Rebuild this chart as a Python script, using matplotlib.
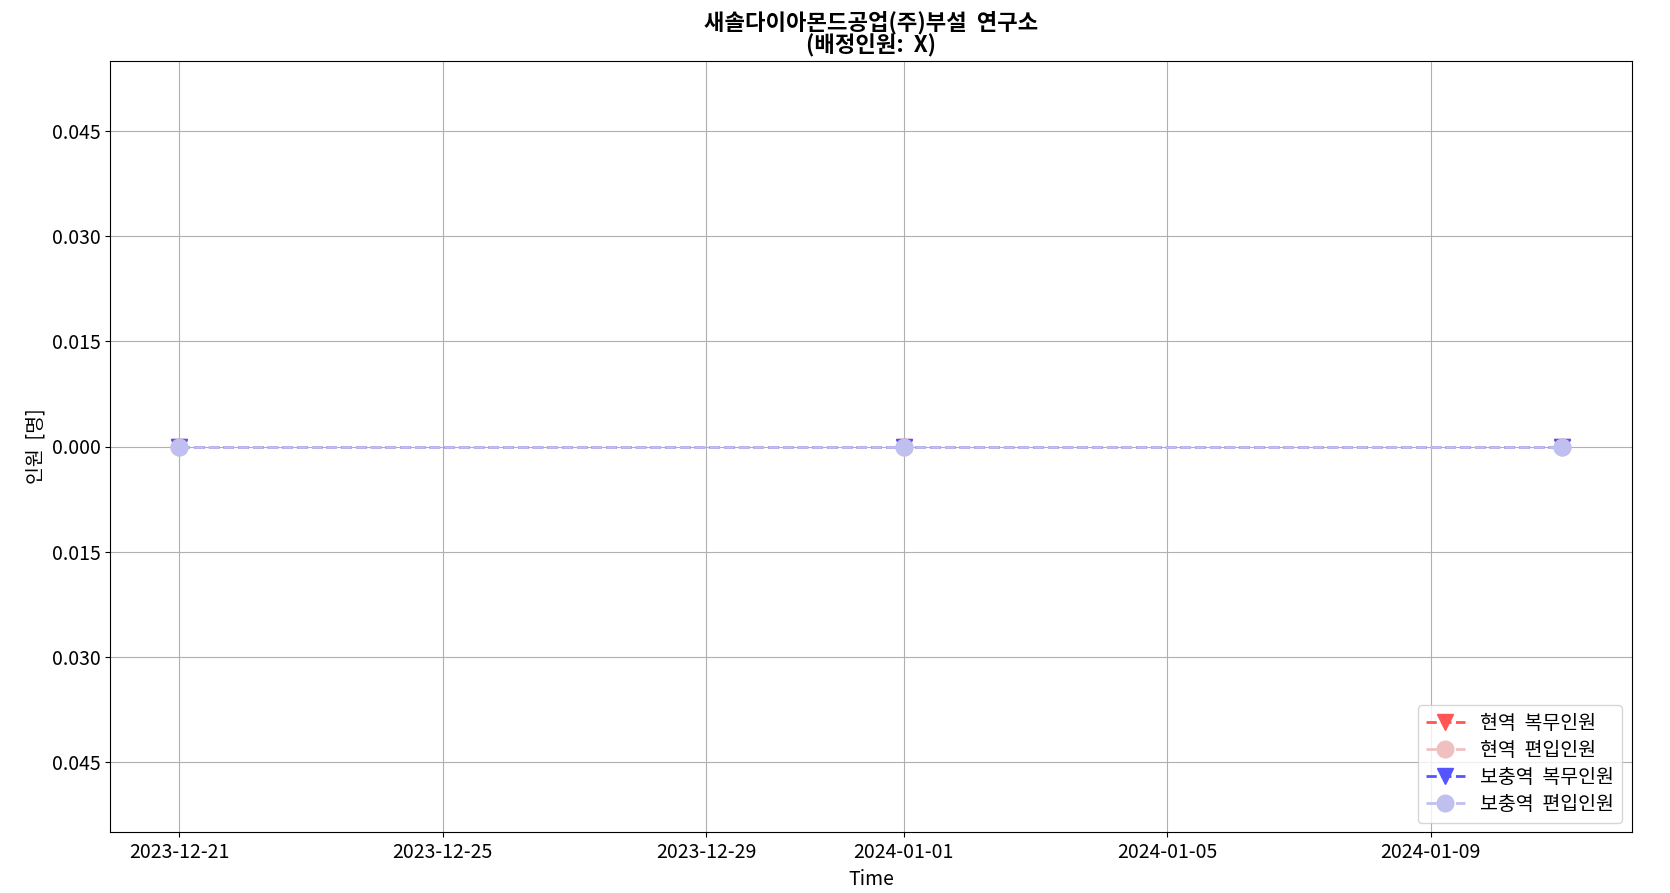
import matplotlib
matplotlib.use("Agg")
import matplotlib.pyplot as plt
import matplotlib.ticker as mticker
import pandas as pd

plt.rcParams['font.family'] = ['Noto Sans CJK KR', 'DejaVu Sans']
plt.rcParams['font.weight'] = 'medium'
plt.rcParams['axes.unicode_minus'] = False

dates = pd.to_datetime(["2023-12-21", "2024-01-01", "2024-01-11"])
active_serving = [0, 0, 0]
active_enrolled = [0, 0, 0]
reserve_serving = [0, 0, 0]
reserve_enrolled = [0, 0, 0]

fig, ax = plt.subplots(figsize=(16.7, 8.93), dpi=100)
ax.plot(dates, active_serving, 'v--', color='#ff5555', ms=12, lw=2, label='현역  복무인원')
ax.plot(dates, active_enrolled, 'o--', color='#f0c0c0', ms=12, lw=2, label='현역  편입인원')
ax.plot(dates, reserve_serving, 'v--', color='#5555ff', ms=12, lw=2, label='보충역  복무인원')
ax.plot(dates, reserve_enrolled, 'o--', color='#c0c0f0', ms=12, lw=2, label='보충역  편입인원')

ax.set_ylim(-0.055, 0.055)
ax.yaxis.set_major_locator(mticker.MultipleLocator(0.015))
ax.yaxis.set_major_formatter(mticker.FuncFormatter(lambda v, p: f"{abs(v):.3f}"))
ax.tick_params(labelsize=14)
ax.grid(True)
ax.set_xlabel('Time', fontsize=14)
ax.set_ylabel('인원  [명]', fontsize=14)
ax.set_title('새솔다이아몬드공업(주)부설  연구소\n(배정인원:  X)', fontsize=16, fontweight='bold', linespacing=1.0)
ax.legend(loc='lower right', fontsize=14, labelspacing=0.3)
fig.subplots_adjust(left=0.066, right=0.977, top=0.932, bottom=0.068)
fig.savefig('out.png')
